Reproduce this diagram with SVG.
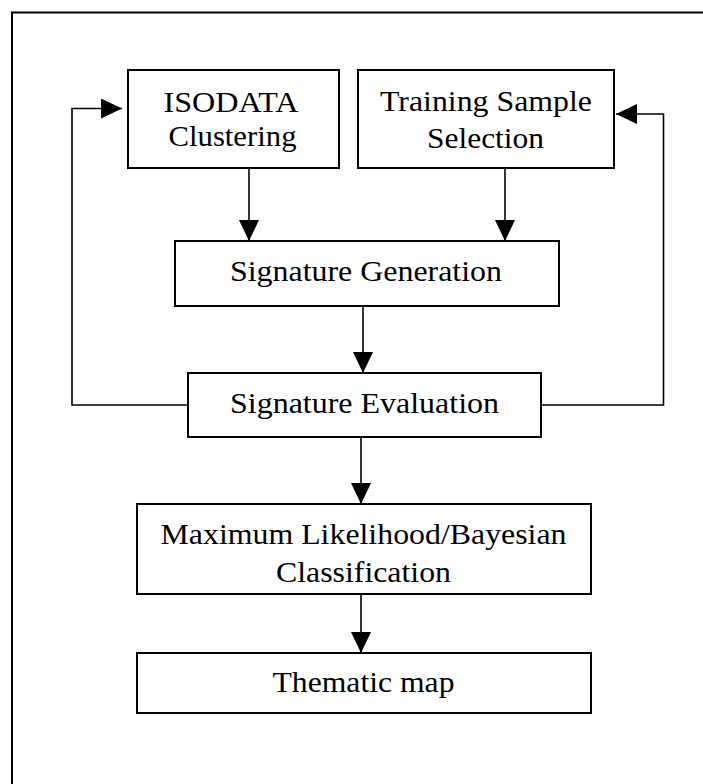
<svg xmlns="http://www.w3.org/2000/svg" width="703" height="784" viewBox="0 0 703 784">
  <style>
    .box { fill: #ffffff; stroke: #000000; stroke-width: 2; }
    .lbl { font-family: "Liberation Serif", "Times New Roman", serif; font-size: 29.5px; fill: #000000; text-anchor: middle; }
    .wire { fill: none; stroke: #000000; stroke-width: 1.6; }
  </style>
  <defs>
    <marker id="head" markerUnits="userSpaceOnUse" markerWidth="21" markerHeight="20" refX="21" refY="10" orient="auto">
      <path d="M0,0 L21,10 L0,20 Z" fill="#000000"/>
    </marker>
  </defs>

  <rect width="703" height="784" fill="#ffffff"/>
  <!-- outer frame (right and bottom edges run past the canvas) -->
  <rect x="12" y="12.5" width="700" height="790" fill="none" stroke="#000000" stroke-width="2"/>

  <g id="connectors">
    <line class="wire" x1="249" y1="168" x2="249" y2="241" marker-end="url(#head)"/>
    <line class="wire" x1="505" y1="168" x2="505" y2="241" marker-end="url(#head)"/>
    <line class="wire" x1="363" y1="306" x2="363" y2="373" marker-end="url(#head)"/>
    <line class="wire" x1="361" y1="437" x2="361" y2="504" marker-end="url(#head)"/>
    <line class="wire" x1="361" y1="594" x2="361" y2="653" marker-end="url(#head)"/>
    <polyline class="wire" points="188,405 72,405 72,108.5 122,108.5" marker-end="url(#head)"/>
    <polyline class="wire" points="541,405 663.5,405 663.5,114 616,114" marker-end="url(#head)"/>
  </g>

  <g id="isodata">
    <rect class="box" x="128" y="70" width="211" height="98"/>
    <text class="lbl" x="231" y="111.5" textLength="135" lengthAdjust="spacingAndGlyphs">ISODATA</text>
    <text class="lbl" x="232.5" y="146" textLength="128" lengthAdjust="spacingAndGlyphs">Clustering</text>
  </g>

  <g id="training">
    <rect class="box" x="358" y="70" width="256" height="98"/>
    <text class="lbl" x="486" y="111" textLength="212" lengthAdjust="spacingAndGlyphs">Training Sample</text>
    <text class="lbl" x="485.5" y="147.5" textLength="117" lengthAdjust="spacingAndGlyphs">Selection</text>
  </g>

  <g id="sig-generation">
    <rect class="box" x="175" y="241" width="384" height="65"/>
    <text class="lbl" x="366" y="280.5" textLength="272" lengthAdjust="spacingAndGlyphs">Signature Generation</text>
  </g>

  <g id="sig-evaluation">
    <rect class="box" x="188" y="373" width="353" height="64"/>
    <text class="lbl" x="364.5" y="412.5" textLength="269" lengthAdjust="spacingAndGlyphs">Signature Evaluation</text>
  </g>

  <g id="classification">
    <rect class="box" x="137" y="504" width="454" height="90"/>
    <text class="lbl" x="363.5" y="544" textLength="406" lengthAdjust="spacingAndGlyphs">Maximum Likelihood/Bayesian</text>
    <text class="lbl" x="363.5" y="582" textLength="175" lengthAdjust="spacingAndGlyphs">Classification</text>
  </g>

  <g id="thematic-map">
    <rect class="box" x="137" y="653" width="454" height="60"/>
    <text class="lbl" x="363.5" y="692" textLength="182" lengthAdjust="spacingAndGlyphs">Thematic map</text>
  </g>
</svg>
